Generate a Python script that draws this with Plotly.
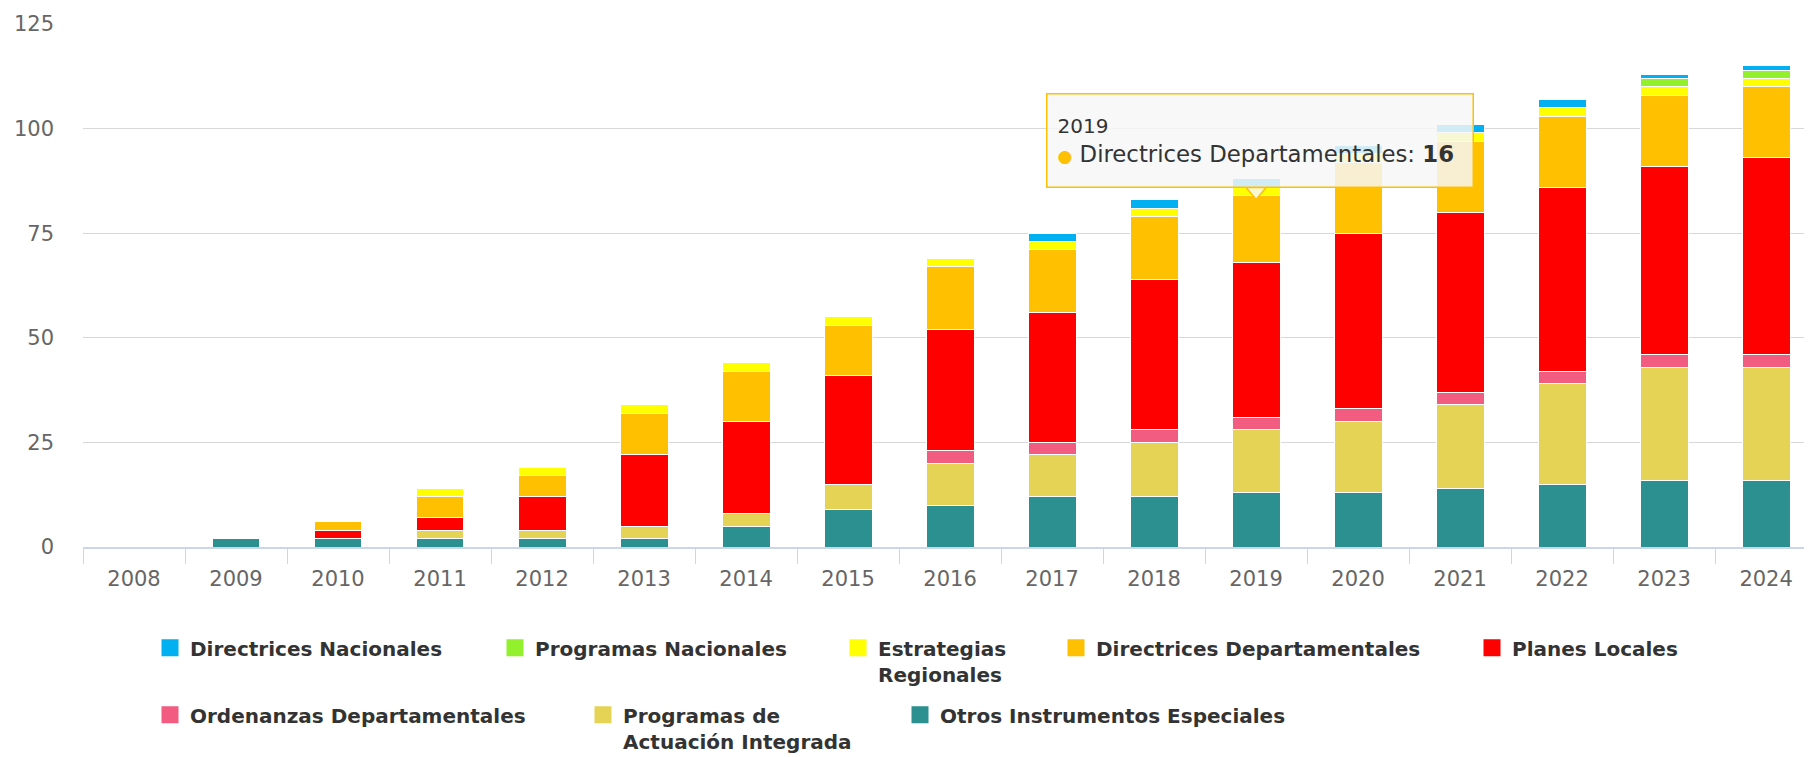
import plotly.graph_objects as go

years = [str(y) for y in range(2008, 2025)]

# series values (bottom of stack -> top)
otros_instrumentos = [0, 2, 2, 2, 2, 2, 5, 9, 10, 12, 12, 13, 13, 14, 15, 16, 16]
programas_actuacion = [0, 0, 0, 2, 2, 3, 3, 6, 10, 10, 13, 15, 17, 20, 24, 27, 27]
ordenanzas_dep = [0, 0, 0, 0, 0, 0, 0, 0, 3, 3, 3, 3, 3, 3, 3, 3, 3]
planes_locales = [0, 0, 2, 3, 8, 17, 22, 26, 29, 31, 36, 37, 42, 43, 44, 45, 47]
directrices_dep = [0, 0, 2, 5, 5, 10, 12, 12, 15, 15, 15, 16, 17, 17, 17, 17, 17]
estrategias_reg = [0, 0, 0, 2, 2, 2, 2, 2, 2, 2, 2, 2, 2, 2, 2, 2, 2]
programas_nac = [0, 0, 0, 0, 0, 0, 0, 0, 0, 0, 0, 0, 0, 0, 0, 2, 2]
directrices_nac = [0, 0, 0, 0, 0, 0, 0, 0, 0, 2, 2, 2, 2, 2, 2, 1, 1]

y_ticks = [0, 25, 50, 75, 100, 125]

series = [
    ("Otros Instrumentos Especiales", otros_instrumentos, "#2B908F", "Otros Instrumentos Especiales"),
    ("Programas de Actuación Integrada", programas_actuacion, "#E4D354", "Programas de<br>Actuación Integrada"),
    ("Ordenanzas Departamentales", ordenanzas_dep, "#F15C80", "Ordenanzas Departamentales"),
    ("Planes Locales", planes_locales, "#FF0000", "Planes Locales"),
    ("Directrices Departamentales", directrices_dep, "#FFC000", "Directrices Departamentales"),
    ("Estrategias Regionales", estrategias_reg, "#FFFF00", "Estrategias<br>Regionales"),
    ("Programas Nacionales", programas_nac, "#92F02C", "Programas Nacionales"),
    ("Directrices Nacionales", directrices_nac, "#00B0F0", "Directrices Nacionales"),
]

# page body has an 8px margin; figure sized so the plot fills the window
OFF = 8
W = 1812 - OFF
H = 757 - OFF + 30   # extra room below the visible window so legends don't push margins
L = 83 - OFF
T = 23.5 - OFF
BOTTOM = 547.5 - OFF
PW = W - L
PH = BOTTOM - T
BAR_WIDTH = 0.47

# legend placement (screen pixel text start, screen pixel row centre)
legend_pos = {
    "Directrices Nacionales": (192, 646),
    "Programas Nacionales": (537, 646),
    "Estrategias Regionales": (880, 646),
    "Directrices Departamentales": (1098, 646),
    "Planes Locales": (1514, 646),
    "Ordenanzas Departamentales": (192, 713),
    "Programas de Actuación Integrada": (625, 713),
    "Otros Instrumentos Especiales": (942, 713),
}

fig = go.Figure()
layout_legends = {}
n = len(years)
for i, (name, vals, color, label) in enumerate(series):
    key = "legend" if i == 0 else f"legend{i+1}"
    # the legend swatch takes its outline from the first point (the empty 2008 bar,
    # given zero width so nothing is drawn there); a thick outline in the series
    # colour enlarges the swatch, while every visible bar keeps a thin white outline
    line_colors = [color] + ["white"] * (n - 1)
    line_widths = [10] + [1] * (n - 1)
    widths = [0] + [BAR_WIDTH] * (n - 1)
    fig.add_trace(go.Bar(
        x=years, y=vals, name=label, legend=key, width=widths,
        marker=dict(color=color, line=dict(color=line_colors, width=line_widths)),
        hoverinfo="skip",
    ))
    tx, ty = legend_pos[name]
    tx -= OFF
    ty -= OFF
    layout_legends[key] = dict(
        x=(tx - 42 - L) / PW, y=(BOTTOM - (ty - 17)) / PH,
        xanchor="left", yanchor="top", orientation="h", valign="top",
        bgcolor="rgba(0,0,0,0)",
        font=dict(family="DejaVu Sans", size=20, color="#333333", weight="bold"),
    )

fig.update_layout(**layout_legends)

fig.update_layout(
    width=W, height=H,
    barmode="stack",
    plot_bgcolor="white", paper_bgcolor="white",
    margin=dict(l=L, r=0, t=T, b=H - BOTTOM),
    font=dict(family="DejaVu Sans", color="#666666"),
    showlegend=True,
    xaxis=dict(
        type="category", range=[-0.5, 16.45],
        showline=True, linecolor="#CCD6EB", linewidth=2,
        ticks="outside", tickson="boundaries", ticklen=15, tickcolor="#CCD6EB", tickwidth=1,
        tickfont=dict(size=21, color="#666666"),
        ticklabelstandoff=12,
        showgrid=False, zeroline=False,
    ),
    yaxis=dict(
        range=[0, 125], tickvals=y_ticks,
        showgrid=True, gridcolor="#D8D8D8", gridwidth=1,
        zeroline=False, showline=False,
        tickfont=dict(size=21, color="#666666"),
        ticklabelstandoff=28,
    ),
)

# tooltip for 2019 / Directrices Departamentales
idx = years.index("2019")
base = (otros_instrumentos[idx] + programas_actuacion[idx] + ordenanzas_dep[idx]
        + planes_locales[idx] + directrices_dep[idx])
fig.add_annotation(
    x=idx, y=base, xref="x", yref="y",
    xanchor="center", yanchor="bottom", xshift=4, yshift=8,
    showarrow=False,
    text=("<span style='font-size:20px'>2019</span><br>"
          "<span style='color:#FFC000;font-size:17px'>●</span> Directrices Departamentales: <b>16</b>"),
    align="left", width=405, height=72, borderpad=10,
    bgcolor="rgba(247,247,247,0.85)", bordercolor="#FFC000", borderwidth=1.5,
    font=dict(family="DejaVu Sans", size=22.8, color="#333333"),
)
fig.add_shape(
    type="path", xref="x", yref="y", xsizemode="pixel", ysizemode="pixel",
    xanchor=idx, yanchor=base,
    path="M -10,8 L 10,8 L 0,-4 Z",
    fillcolor="rgba(247,247,247,0.85)", line=dict(color="#FFC000", width=1.5),
    layer="above",
)

fig.write_html("out.html")
